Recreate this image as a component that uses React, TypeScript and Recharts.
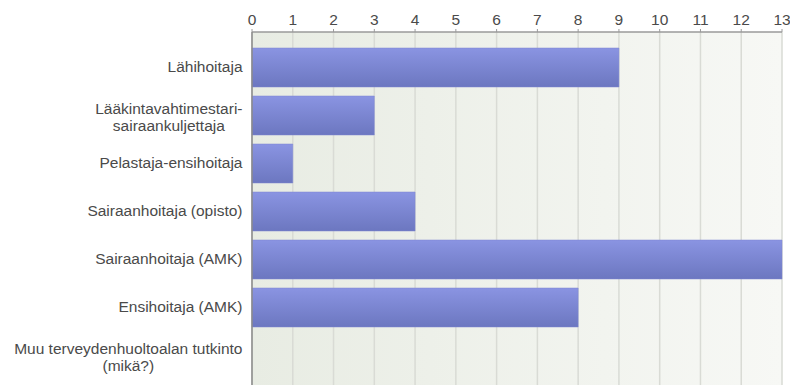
import { BarChart, Bar, XAxis, YAxis, CartesianGrid } from 'recharts';

// vastaukset koulutuksen mukaan
const categories = [
  'Lähihoitaja',
  'Lääkintavahtimestari-\nsairaankuljettaja',
  'Pelastaja-ensihoitaja',
  'Sairaanhoitaja (opisto)',
  'Sairaanhoitaja (AMK)',
  'Ensihoitaja (AMK)',
  'Muu terveydenhuoltoalan tutkinto\n(mikä?)',
];
const counts = [9, 3, 1, 4, 13, 8, 0];
const xTicks = [0, 1, 2, 3, 4, 5, 6, 7, 8, 9, 10, 11, 12, 13];

const data = categories.map((name, i) => ({ name, value: counts[i] }));

const FONT = 'Liberation Sans, Arial, sans-serif';
const FS = 15.5;
const TEXT = '#4a4a4a';

let canvas: HTMLCanvasElement | null = null;
function textWidth(s: string) {
  if (!canvas) canvas = document.createElement('canvas');
  const ctx = canvas.getContext('2d')!;
  ctx.font = `${FS}px "Liberation Sans", Arial, sans-serif`;
  return ctx.measureText(s).width;
}

function CategoryTick({ x, y, payload }: any) {
  const lines: string[] = String(payload.value).split('\n');
  const right = x - 1.5;
  if (lines.length === 1) {
    return (
      <text x={right} y={y} dy={5} textAnchor="end" fontSize={FS} fontFamily={FONT} fill={TEXT}>
        {lines[0]}
      </text>
    );
  }
  const w = Math.max(...lines.map(textWidth));
  const cx = right - w / 2;
  return (
    <text x={cx} y={y} textAnchor="middle" fontSize={FS} fontFamily={FONT} fill={TEXT}>
      {lines.map((l, i) => (
        <tspan key={i} x={cx} y={y + (i - (lines.length - 1) / 2) * 17 + 7}>
          {l}
        </tspan>
      ))}
    </text>
  );
}

export default function App() {
  return (
    <div style={{ position: 'absolute', left: 0, top: 0, background: '#fff' }}>
      <BarChart
        width={790}
        height={385}
        data={data}
        layout="vertical"
        margin={{ top: 0, right: 8, bottom: 0, left: 0 }}
      >
        <defs>
          <linearGradient id="bgGrad" x1="0" y1="0" x2="1" y2="0">
            <stop offset="0%" stopColor="#e8ece3" />
            <stop offset="100%" stopColor="#f7f8f5" />
          </linearGradient>
          <linearGradient id="barGrad" x1="0" y1="0" x2="0" y2="1">
            <stop offset="0%" stopColor="#8a94e2" />
            <stop offset="100%" stopColor="#6c77c0" />
          </linearGradient>
        </defs>
        <CartesianGrid
          horizontal={false}
          stroke="#d9dbd5"
          strokeWidth={1.5}
          fill="url(#bgGrad)"
          fillOpacity={1}
        />
        <XAxis
          type="number"
          orientation="top"
          domain={[0, 13]}
          ticks={xTicks}
          interval={0}
          height={32}
          tickSize={3}
          tick={{ fontSize: FS, fontFamily: FONT, fill: TEXT }}
          tickMargin={4}
          stroke="#9a9a9a"
          axisLine={{ stroke: '#9a9a9a', strokeWidth: 1.5 }}
        />
        <YAxis
          type="category"
          dataKey="name"
          width={252}
          padding={{ top: 11, bottom: 6 }}
          tickLine={false}
          tickSize={6}
          tick={<CategoryTick />}
          interval={0}
          axisLine={{ stroke: '#8a8a8a', strokeWidth: 1.5 }}
        />
        <Bar
          dataKey="value"
          fill="url(#barGrad)"
          stroke="#7c86d0"
          strokeWidth={0.5}
          barSize={39}
          isAnimationActive={false}
        />
      </BarChart>
    </div>
  );
}
